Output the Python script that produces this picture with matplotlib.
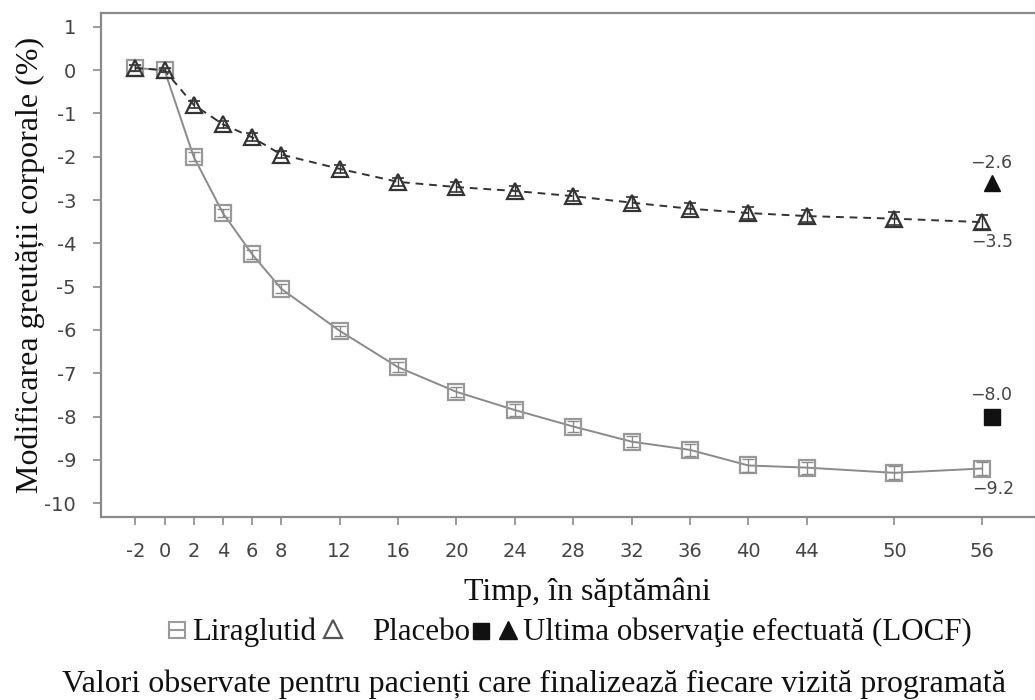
import matplotlib
matplotlib.use("Agg")
import matplotlib.pyplot as plt
from matplotlib.lines import Line2D

weeks = [-2, 0, 2, 4, 6, 8, 12, 16, 20, 24, 28, 32, 36, 40, 44, 50, 56]
liraglutid = [0.05, 0.0, -2.0, -3.3, -4.25, -5.05, -6.02, -6.86, -7.43, -7.85, -8.23,
              -8.58, -8.77, -9.13, -9.18, -9.30, -9.20]
lira_err = [0.08, 0.05, 0.1, 0.1, 0.1, 0.1, 0.11, 0.12, 0.12, 0.13, 0.13, 0.13, 0.14,
            0.14, 0.14, 0.15, 0.16]
placebo = [0.05, 0.0, -0.80, -1.25, -1.55, -1.95, -2.28, -2.58, -2.70, -2.79, -2.91,
           -3.06, -3.20, -3.30, -3.37, -3.43, -3.51]
plac_err = [0.08, 0.05, 0.08, 0.08, 0.09, 0.09, 0.10, 0.10, 0.11, 0.11, 0.12, 0.12,
            0.13, 0.13, 0.14, 0.15, 0.16]
locf_week = 56.7
locf_lira = -8.0
locf_plac = -2.6
yticks = list(range(-10, 2))

W, H = 1035, 700
fig = plt.figure(figsize=(W / 100, H / 100), dpi=100)
x0, x1 = 101, 1040
y0, y1 = 517, 13
ax = fig.add_axes([x0 / W, 1 - y0 / H, (x1 - x0) / W, (y0 - y1) / H])

gray = '#8a8a8a'
dark = '#333333'

# Liraglutid
ax.errorbar(weeks, liraglutid, yerr=lira_err, fmt='none', ecolor=gray, elinewidth=1.0,
            capsize=4, capthick=1.0, zorder=4)
ax.plot(weeks, liraglutid, color=gray, lw=1.4, marker='s', ms=11, mfc='none',
        mec='#999999', mew=1.6, zorder=3)
# Placebo
ax.errorbar(weeks, placebo, yerr=plac_err, fmt='none', ecolor=dark, elinewidth=1.0,
            capsize=4, capthick=1.2, zorder=4)
ax.plot(weeks, placebo, color=dark, lw=1.4, ls=(0, (4, 3)), marker='^', ms=11,
        mfc='none', mec=dark, mew=1.6, zorder=3)
# LOCF
ax.plot([locf_week], [locf_lira], marker='s', ms=12, color='#111111', ls='none', zorder=5)
ax.plot([locf_week], [locf_plac], marker='^', ms=12, color='#111111', ls='none', zorder=5)

lab_kw = dict(fontsize=12.5, color='#444444', ha='center', family='DejaVu Sans')
ax.annotate(f"\u2212{abs(locf_plac):.1f}", (locf_week, locf_plac), xytext=(-1, 8),
            textcoords='offset points', va='bottom', **lab_kw)
ax.annotate(f"\u2212{abs(locf_lira):.1f}", (locf_week, locf_lira), xytext=(-1, 9),
            textcoords='offset points', va='bottom', **lab_kw)
ax.annotate(f"\u2212{abs(placebo[-1]):.1f}", (weeks[-1], placebo[-1]), xytext=(7, -8),
            textcoords='offset points', va='top', **lab_kw)
ax.annotate(f"\u2212{abs(liraglutid[-1]):.1f}", (weeks[-1], liraglutid[-1]), xytext=(8, -8),
            textcoords='offset points', va='top', **lab_kw)

slope = (982 - 164.5) / 56
ax.set_xlim((x0 - 164.5) / slope, (x1 - 164.5) / slope)
ax.set_ylim(-10.32, 1.32)
ax.set_xticks(weeks)
ax.set_xticklabels([str(w) for w in weeks])
ax.set_yticks(yticks)
ax.set_yticklabels([str(v) for v in yticks])
for s in ['left', 'bottom', 'top', 'right']:
    ax.spines[s].set_color(gray)
    ax.spines[s].set_linewidth(1.6)
ax.tick_params(direction='out', length=6, width=1.2, color=gray, labelcolor='#444444',
               labelsize=14)
ax.tick_params(axis='y', pad=12)
ax.tick_params(axis='x', pad=12)

serif = ['Liberation Serif', 'DejaVu Serif']
fig.text(30 / W, 1 - 265 / H, "Modificarea greutății corporale (%)", fontsize=23,
         family=serif, color='#111111', rotation=90, ha='center', va='center')
fig.text(587 / W, 1 - 592 / H, "Timp, în săptămâni", fontsize=23, family=serif,
         color='#111111', ha='center', va='center')

def fx(px):
    return px / W

def fy(py):
    return 1 - py / H

base = fy(640)
txt_kw = dict(fontsize=22.3, family=serif, color='#111111', ha='left', va='baseline')
fig.text(fx(192), base, "Liraglutid", **txt_kw)
fig.text(fx(372), base, "Placebo", **txt_kw)
fig.text(fx(523), base, "Ultima observaţie efectuată (LOCF)", **txt_kw)

sym_y = fy(630)
fig.add_artist(Line2D([fx(177)], [sym_y], marker='s', ms=12, mfc='none', mec='#9a9a9a',
                      mew=1.5, ls='none', transform=fig.transFigure))
fig.add_artist(Line2D([fx(177)], [sym_y], marker='_', ms=12, mec='#9a9a9a',
                      mew=1.5, ls='none', transform=fig.transFigure))
fig.add_artist(Line2D([fx(333)], [fy(629)], marker='^', ms=13, mfc='none', mec='#555555',
                      mew=1.6, ls='none', transform=fig.transFigure))
fig.add_artist(Line2D([fx(481)], [fy(631)], marker='s', ms=11.5, color='#111111',
                      ls='none', transform=fig.transFigure))
fig.add_artist(Line2D([fx(508)], [fy(630)], marker='^', ms=13, color='#111111',
                      ls='none', transform=fig.transFigure))

fig.text(fx(534), fy(684) ,
         "Valori observate pentru pacienți care finalizează fiecare vizită programată",
         fontsize=23, family=serif, color='#111111', ha='center', va='center')

fig.savefig("out.png", dpi=100)
